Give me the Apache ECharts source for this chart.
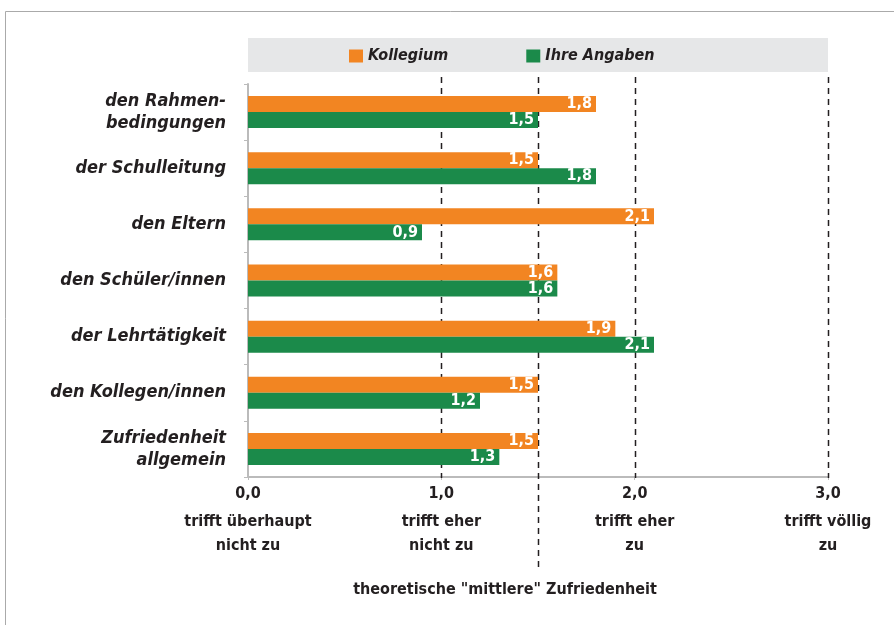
<!DOCTYPE html>
<html>
<head>
<meta charset="utf-8">
<script src="https://cdn.jsdelivr.net/npm/echarts@6/dist/echarts.min.js"></script>
<style>
  html, body { margin: 0; padding: 0; background: #fff; }
  #chart { width: 894px; height: 625px; }
</style>
</head>
<body>
<div id="chart"></div>
<script>
// Daten
var categories = ['den Rahmen-\nbedingungen', 'der Schulleitung', 'den Eltern', 'den Schüler/innen',
  'der Lehrtätigkeit', 'den Kollegen/innen', 'Zufriedenheit\nallgemein'];
var kollegium = [1.8, 1.5, 2.1, 1.6, 1.9, 1.5, 1.5];
var ihreAngaben = [1.5, 1.8, 0.9, 1.6, 2.1, 1.2, 1.3];
var xTickLabels = ['0,0', '1,0', '2,0', '3,0'];
var xTickTexts = ['trifft überhaupt\nnicht zu', 'trifft eher\nnicht zu', 'trifft eher\nzu', 'trifft völlig\nzu'];
var midValue = 1.5;
var midText = 'theoretische "mittlere" Zufriedenheit';

var FONT = "'Liberation Sans Narrow', 'DejaVu Sans Condensed', 'Open Sans', sans-serif";
var TEXT = '#231F20';
var ORANGE = '#F28522';
var GREEN = '#1B8A4A';

var chart = echarts.init(document.getElementById('chart'), null, { renderer: 'canvas' });

function fmt(v) {
  return v.toFixed(1).replace('.', ',');
}

var option = {
  animation: false,
  backgroundColor: '#fff',
  textStyle: { fontFamily: FONT },
  legend: {
    left: 349,
    top: 48,
    padding: 0,
    itemGap: 78,
    itemWidth: 14,
    itemHeight: 13,
    icon: 'rect',
    textStyle: { fontFamily: FONT, fontSize: 16, fontWeight: 'bold', fontStyle: 'italic', color: TEXT },
    data: ['Kollegium', 'Ihre Angaben']
  },
  grid: { left: 248, right: 66, top: 84, bottom: 148 },
  xAxis: {
    type: 'value',
    min: 0,
    max: 3,
    interval: 1,
    axisLine: { show: true, lineStyle: { color: '#BBBBBB', width: 2 } },
    axisTick: { show: true, length: 3, lineStyle: { color: '#BBBBBB' } },
    splitLine: { show: false },
    axisLabel: {
      margin: 15,
      formatter: function (value) {
        var i = Math.round(value);
        var lines = xTickTexts[i].split('\n');
        return '{v|' + xTickLabels[i] + '}\n' + lines.map(function (l) { return '{d|' + l + '}'; }).join('\n');
      },
      rich: {
        v: { fontFamily: FONT, fontSize: 16, fontWeight: 'bold', color: TEXT, lineHeight: 18, padding: [0, 0, 14, 0] },
        d: { fontFamily: FONT, fontSize: 16, fontWeight: 'bold', color: TEXT, lineHeight: 24 }
      }
    }
  },
  yAxis: {
    type: 'category',
    inverse: true,
    data: categories,
    axisLine: { show: true, lineStyle: { color: '#BBBBBB', width: 2 } },
    axisTick: { show: true, length: 4, lineStyle: { color: '#BBBBBB' } },
    axisLabel: {
      margin: 22,
      fontFamily: FONT,
      fontSize: 18,
      fontWeight: 'bold',
      fontStyle: 'italic',
      color: TEXT,
      lineHeight: 22,
      align: 'right'
    }
  },
  series: [
    {
      name: 'Kollegium',
      type: 'bar',
      data: kollegium,
      barWidth: 16,
      barGap: '0%',
      itemStyle: { color: ORANGE },
      label: {
        show: true,
        position: 'insideRight',
        distance: 4,
        color: '#fff',
        fontFamily: FONT,
        fontSize: 16,
        fontWeight: 'bold',
        formatter: function (p) { return fmt(p.value); }
      }
    },
    {
      name: 'Ihre Angaben',
      type: 'bar',
      data: ihreAngaben,
      barWidth: 16,
      barGap: '0%',
      itemStyle: { color: GREEN },
      label: {
        show: true,
        position: 'insideRight',
        distance: 4,
        color: '#fff',
        fontFamily: FONT,
        fontSize: 16,
        fontWeight: 'bold',
        formatter: function (p) { return fmt(p.value); }
      }
    }
  ]
};

chart.setOption(option);

// Hilfslinien und Rahmen aus den Achsen berechnen
var x0 = chart.convertToPixel({ xAxisIndex: 0 }, 0);
var x3 = chart.convertToPixel({ xAxisIndex: 0 }, 3);
var yAxis = 478;
var graphics = [
  { type: 'rect', shape: { x: 5.5, y: 11.5, width: 1000, height: 1000 }, style: { fill: 'none', stroke: '#AAAAAA', lineWidth: 1 }, z: 0 },
  { type: 'rect', shape: { x: x0, y: 38, width: x3 - x0, height: 34 }, style: { fill: '#E6E7E8' }, z: 0 }
];
[1, 2, 3].forEach(function (v) {
  var px = Math.round(chart.convertToPixel({ xAxisIndex: 0 }, v)) + 0.5;
  graphics.push({ type: 'line', shape: { x1: px, y1: 77, x2: px, y2: yAxis }, style: { stroke: TEXT, lineWidth: 1.5, lineDash: [6, 5] }, z: 1 });
});
var pm = Math.round(chart.convertToPixel({ xAxisIndex: 0 }, midValue)) + 0.5;
graphics.push({ type: 'line', shape: { x1: pm, y1: 77, x2: pm, y2: 568 }, style: { stroke: TEXT, lineWidth: 1.5, lineDash: [6, 5] }, z: 1 });
graphics.push({ type: 'text', x: 505, y: 590, style: { text: midText, fontFamily: FONT, fontSize: 16, fontWeight: 'bold', fill: TEXT, align: 'center', verticalAlign: 'middle' }, z: 5 });

chart.setOption({ graphic: graphics });
</script>
</body>
</html>
